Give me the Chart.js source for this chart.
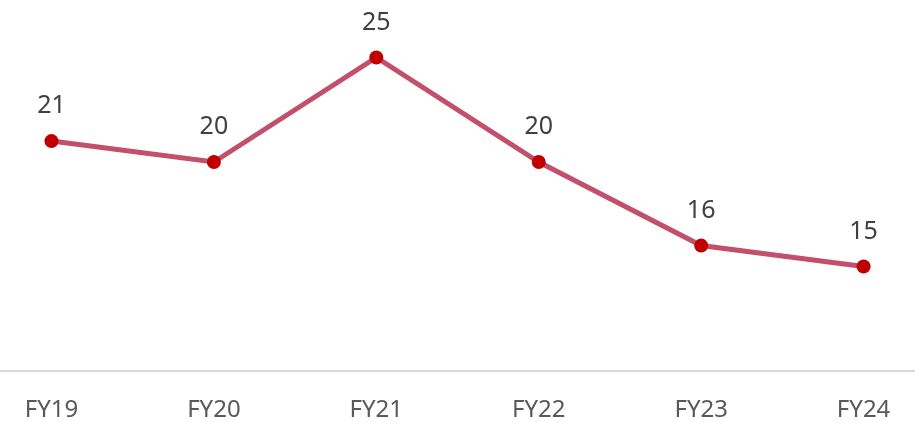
<!DOCTYPE html>
<html lang="en">
<head>
  <meta charset="UTF-8">
  <title>FY Trend</title>
  <script src="https://cdn.jsdelivr.net/npm/chart.js"></script>
  <style>
    html, body { margin: 0; padding: 0; background: #fff; }
    #wrap { width: 915px; height: 422px; }
  </style>
</head>
<body>
  <div id="wrap"><canvas id="chart"></canvas></div>

  <script>
    const categories = ['FY19', 'FY20', 'FY21', 'FY22', 'FY23', 'FY24'];
    const values = [21, 20, 25, 20, 16, 15];

    // value labels above each point, baseline drawn across the full width
    const valueLabels = {
      id: 'valueLabels',
      beforeDatasetsDraw(chart) {
        const ctx = chart.ctx;
        const y = chart.chartArea.bottom;
        ctx.save();
        ctx.strokeStyle = '#d9d9d9';
        ctx.lineWidth = 2;
        ctx.beginPath();
        ctx.moveTo(0, y);
        ctx.lineTo(chart.width, y);
        ctx.stroke();
        ctx.restore();
      },
      afterDatasetsDraw(chart) {
        const ctx = chart.ctx;
        const meta = chart.getDatasetMeta(0);
        ctx.save();
        ctx.font = '25px "Noto Sans"';
        ctx.fillStyle = '#404040';
        ctx.textAlign = 'center';
        ctx.textBaseline = 'middle';
        meta.data.forEach((pt, i) => {
          ctx.fillText(values[i], pt.x, pt.y - 35);
        });
        ctx.restore();
      }
    };

    const ctx = document.getElementById('chart').getContext('2d');
    new Chart(ctx, {
      type: 'line',
      data: {
        datasets: [{
          data: values.map((v, i) => ({ x: i, y: v })),
          borderColor: '#c24f6b',
          borderWidth: 5,
          pointRadius: 7,
          pointBackgroundColor: '#c00000',
          pointBorderColor: '#c00000',
          pointBorderWidth: 0,
          tension: 0,
          clip: false
        }]
      },
      options: {
        responsive: true,
        maintainAspectRatio: false,
        animation: false,
        layout: { padding: 0, autoPadding: false },
        plugins: {
          legend: { display: false },
          tooltip: { enabled: false }
        },
        scales: {
          x: {
            type: 'linear',
            min: -0.275,
            max: 5.281,
            grid: { display: false, drawTicks: false },
            border: { display: false },
            afterFit: s => { s.height = 51; },
            ticks: {
              stepSize: 1,
              includeBounds: false,
              autoSkip: false,
              maxRotation: 0,
              padding: 25,
              color: '#595959',
              font: { family: 'Noto Sans', size: 24 },
              callback: v => Number.isInteger(v) ? categories[v] : ''
            }
          },
          y: {
            display: false,
            min: 10,
            max: 27.75
          }
        }
      },
      plugins: [valueLabels]
    });
  </script>
</body>
</html>
